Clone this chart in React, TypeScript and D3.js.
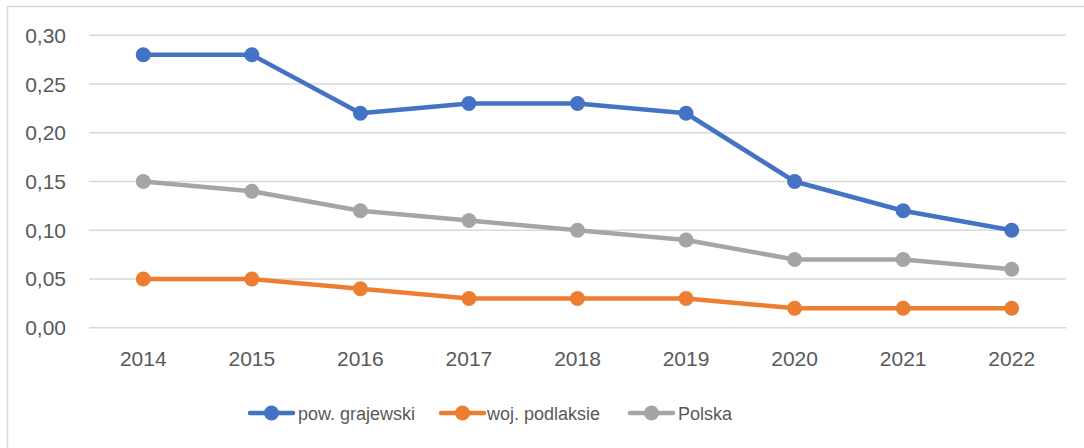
import React from "react";
import * as d3 from "d3";

const years = ["2014", "2015", "2016", "2017", "2018", "2019", "2020", "2021", "2022"];
const powGrajewski = [0.28, 0.28, 0.22, 0.23, 0.23, 0.22, 0.15, 0.12, 0.1];
const wojPodlaskie = [0.05, 0.05, 0.04, 0.03, 0.03, 0.03, 0.02, 0.02, 0.02];
const polska = [0.15, 0.14, 0.12, 0.11, 0.1, 0.09, 0.07, 0.07, 0.06];
const yTicks = [0, 0.05, 0.1, 0.15, 0.2, 0.25, 0.3];
const seriesNames = ["pow. grajewski", "woj. podlaksie", "Polska"];
const seriesColors = ["#4472C4", "#ED7D31", "#A5A5A5"];

const W = 1084;
const H = 448;
const left = 89;
const right = 1066;
const top = 35.3;
const bottom = 327.7;
const font = "'Liberation Sans', Arial, sans-serif";

export default function App() {
  const x = d3.scaleBand<string>().domain(years).range([left, right]);
  const y = d3.scaleLinear().domain([0, 0.3]).range([bottom, top]);
  const fmt = (v: number) => v.toFixed(2).replace(".", ",");
  const series = [powGrajewski, wojPodlaskie, polska];
  const line = d3
    .line<number>()
    .x((_, i) => (x(years[i]) as number) + x.bandwidth() / 2)
    .y((d) => y(d));

  const legendItems = [
    { lx: 250, tx: 298 },
    { lx: 441, tx: 487 },
    { lx: 630, tx: 678 },
  ];
  const ly = 413;

  return (
    <svg width={W} height={H} style={{ position: "absolute", left: 0, top: 0 }}>
      <rect x={0} y={0} width={W} height={H} fill="#fff" />
      <rect x={7.5} y={6.5} width={W + 20} height={H + 20} fill="none" stroke="#D9D9D9" strokeWidth={1.5} />
      {yTicks.map((t) => (
        <g key={t}>
          <line x1={left} x2={right} y1={y(t)} y2={y(t)} stroke="#D9D9D9" strokeWidth={1.5} />
          <text x={66} y={y(t) + 7.5} textAnchor="end" fontFamily={font} fontSize={21} fill="#595959">
            {fmt(t)}
          </text>
        </g>
      ))}
      {years.map((yr) => (
        <text
          key={yr}
          x={(x(yr) as number) + x.bandwidth() / 2}
          y={366}
          textAnchor="middle"
          fontFamily={font}
          fontSize={21}
          fill="#595959"
        >
          {yr}
        </text>
      ))}
      {series.map((s, si) => (
        <g key={si}>
          <path d={line(s) || ""} fill="none" stroke={seriesColors[si]} strokeWidth={4.5} strokeLinejoin="round" strokeLinecap="round" />
          {s.map((v, i) => (
            <circle
              key={i}
              cx={(x(years[i]) as number) + x.bandwidth() / 2}
              cy={y(v)}
              r={7.5}
              fill={seriesColors[si]}
            />
          ))}
        </g>
      ))}
      {legendItems.map((it, i) => (
        <g key={i}>
          <line x1={it.lx} x2={it.lx + 43} y1={ly} y2={ly} stroke={seriesColors[i]} strokeWidth={4.5} strokeLinecap="round" />
          <circle cx={it.lx + 21.5} cy={ly} r={7.5} fill={seriesColors[i]} />
          <text x={it.tx} y={ly + 7} fontFamily={font} fontSize={18} fill="#595959">
            {seriesNames[i]}
          </text>
        </g>
      ))}
    </svg>
  );
}
